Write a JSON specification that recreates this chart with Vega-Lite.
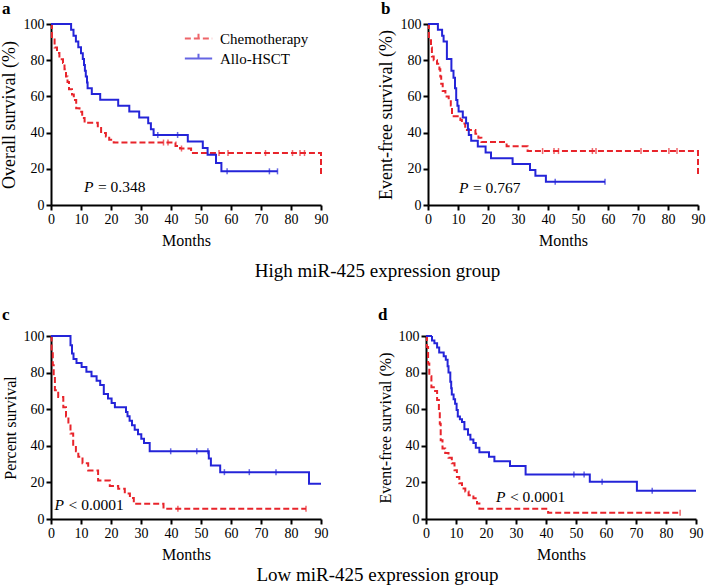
{
"$schema": "https://vega.github.io/schema/vega-lite/v6.json",
"background": "white",
"padding": {"left": 0, "top": 0, "right": 2, "bottom": 0},
"datasets": {
"curves": [
{"panel":"a","group":"Chemotherapy","month":0,"survival":100},{"panel":"a","group":"Chemotherapy","month":0.3,"survival":91.5},{"panel":"a","group":"Chemotherapy","month":1.2,"survival":87},{"panel":"a","group":"Chemotherapy","month":2,"survival":84},{"panel":"a","group":"Chemotherapy","month":2.8,"survival":80.5},{"panel":"a","group":"Chemotherapy","month":4,"survival":78.5},{"panel":"a","group":"Chemotherapy","month":4.5,"survival":75},{"panel":"a","group":"Chemotherapy","month":5,"survival":71},{"panel":"a","group":"Chemotherapy","month":5.5,"survival":68},{"panel":"a","group":"Chemotherapy","month":6,"survival":64},{"panel":"a","group":"Chemotherapy","month":7,"survival":61},{"panel":"a","group":"Chemotherapy","month":7.6,"survival":58},{"panel":"a","group":"Chemotherapy","month":8.4,"survival":53.5},{"panel":"a","group":"Chemotherapy","month":9.5,"survival":51.5},{"panel":"a","group":"Chemotherapy","month":10.4,"survival":48},{"panel":"a","group":"Chemotherapy","month":11.2,"survival":45.4},{"panel":"a","group":"Chemotherapy","month":15.6,"survival":42.6},{"panel":"a","group":"Chemotherapy","month":16.7,"survival":39.8},{"panel":"a","group":"Chemotherapy","month":18.3,"survival":37.8},{"panel":"a","group":"Chemotherapy","month":19.4,"survival":36},{"panel":"a","group":"Chemotherapy","month":20.9,"survival":34.5},{"panel":"a","group":"Chemotherapy","month":41.5,"survival":32.6},{"panel":"a","group":"Chemotherapy","month":43,"survival":31.2},{"panel":"a","group":"Chemotherapy","month":46.7,"survival":28.7},{"panel":"a","group":"Chemotherapy","month":90,"survival":28.7},{"panel":"a","group":"Chemotherapy","month":90,"survival":16.5},
{"panel":"a","group":"Allo-HSCT","month":0,"survival":100},{"panel":"a","group":"Allo-HSCT","month":6.7,"survival":96.8},{"panel":"a","group":"Allo-HSCT","month":7.5,"survival":93.5},{"panel":"a","group":"Allo-HSCT","month":8.3,"survival":90.3},{"panel":"a","group":"Allo-HSCT","month":9.1,"survival":87.1},{"panel":"a","group":"Allo-HSCT","month":10,"survival":83.9},{"panel":"a","group":"Allo-HSCT","month":10.6,"survival":80.6},{"panel":"a","group":"Allo-HSCT","month":11,"survival":77.4},{"panel":"a","group":"Allo-HSCT","month":11.3,"survival":74.2},{"panel":"a","group":"Allo-HSCT","month":11.6,"survival":71},{"panel":"a","group":"Allo-HSCT","month":12,"survival":67.7},{"panel":"a","group":"Allo-HSCT","month":12.2,"survival":64.5},{"panel":"a","group":"Allo-HSCT","month":13.6,"survival":61.3},{"panel":"a","group":"Allo-HSCT","month":16.4,"survival":58.1},{"panel":"a","group":"Allo-HSCT","month":22.4,"survival":54.8},{"panel":"a","group":"Allo-HSCT","month":26.1,"survival":51.6},{"panel":"a","group":"Allo-HSCT","month":29.4,"survival":48.4},{"panel":"a","group":"Allo-HSCT","month":32.4,"survival":45.2},{"panel":"a","group":"Allo-HSCT","month":33.3,"survival":41.9},{"panel":"a","group":"Allo-HSCT","month":34.2,"survival":38.7},{"panel":"a","group":"Allo-HSCT","month":45.6,"survival":35.1},{"panel":"a","group":"Allo-HSCT","month":50.6,"survival":31.5},{"panel":"a","group":"Allo-HSCT","month":52.2,"survival":27.8},{"panel":"a","group":"Allo-HSCT","month":55,"survival":23.2},{"panel":"a","group":"Allo-HSCT","month":56.8,"survival":18.6},{"panel":"a","group":"Allo-HSCT","month":75.5,"survival":18.6},
{"panel":"b","group":"Chemotherapy","month":0,"survival":100},{"panel":"b","group":"Chemotherapy","month":0.3,"survival":91},{"panel":"b","group":"Chemotherapy","month":1,"survival":87},{"panel":"b","group":"Chemotherapy","month":1.3,"survival":82},{"panel":"b","group":"Chemotherapy","month":1.9,"survival":80},{"panel":"b","group":"Chemotherapy","month":3,"survival":78},{"panel":"b","group":"Chemotherapy","month":3.8,"survival":75},{"panel":"b","group":"Chemotherapy","month":4.1,"survival":71},{"panel":"b","group":"Chemotherapy","month":4.4,"survival":67},{"panel":"b","group":"Chemotherapy","month":4.9,"survival":63},{"panel":"b","group":"Chemotherapy","month":5.8,"survival":60},{"panel":"b","group":"Chemotherapy","month":6.9,"survival":58},{"panel":"b","group":"Chemotherapy","month":7.6,"survival":55},{"panel":"b","group":"Chemotherapy","month":8,"survival":49},{"panel":"b","group":"Chemotherapy","month":10.8,"survival":47},{"panel":"b","group":"Chemotherapy","month":11.3,"survival":45},{"panel":"b","group":"Chemotherapy","month":12.4,"survival":41.4},{"panel":"b","group":"Chemotherapy","month":15.8,"survival":39.3},{"panel":"b","group":"Chemotherapy","month":16.8,"survival":37.2},{"panel":"b","group":"Chemotherapy","month":17.8,"survival":34.8},{"panel":"b","group":"Chemotherapy","month":26.2,"survival":32.4},{"panel":"b","group":"Chemotherapy","month":33.2,"survival":29.8},{"panel":"b","group":"Chemotherapy","month":90,"survival":29.8},{"panel":"b","group":"Chemotherapy","month":90,"survival":16},
{"panel":"b","group":"Allo-HSCT","month":0,"survival":100},{"panel":"b","group":"Allo-HSCT","month":3.3,"survival":96.8},{"panel":"b","group":"Allo-HSCT","month":4.7,"survival":93.5},{"panel":"b","group":"Allo-HSCT","month":5.2,"survival":90.3},{"panel":"b","group":"Allo-HSCT","month":6.3,"survival":80.6},{"panel":"b","group":"Allo-HSCT","month":7.8,"survival":74.2},{"panel":"b","group":"Allo-HSCT","month":8.5,"survival":70.3},{"panel":"b","group":"Allo-HSCT","month":9,"survival":64.5},{"panel":"b","group":"Allo-HSCT","month":9.4,"survival":58},{"panel":"b","group":"Allo-HSCT","month":9.8,"survival":54.8},{"panel":"b","group":"Allo-HSCT","month":10.2,"survival":51.6},{"panel":"b","group":"Allo-HSCT","month":11.6,"survival":48.4},{"panel":"b","group":"Allo-HSCT","month":12.7,"survival":45.2},{"panel":"b","group":"Allo-HSCT","month":13.3,"survival":41.9},{"panel":"b","group":"Allo-HSCT","month":13.6,"survival":38.7},{"panel":"b","group":"Allo-HSCT","month":14.4,"survival":35.5},{"panel":"b","group":"Allo-HSCT","month":16.6,"survival":32.3},{"panel":"b","group":"Allo-HSCT","month":19.2,"survival":29},{"panel":"b","group":"Allo-HSCT","month":21,"survival":25.8},{"panel":"b","group":"Allo-HSCT","month":28.2,"survival":22.6},{"panel":"b","group":"Allo-HSCT","month":34,"survival":19.4},{"panel":"b","group":"Allo-HSCT","month":35.8,"survival":16.1},{"panel":"b","group":"Allo-HSCT","month":39.3,"survival":12.9},{"panel":"b","group":"Allo-HSCT","month":59,"survival":12.9},
{"panel":"c","group":"Chemotherapy","month":0,"survival":100},{"panel":"c","group":"Chemotherapy","month":0.2,"survival":92},{"panel":"c","group":"Chemotherapy","month":0.6,"survival":84},{"panel":"c","group":"Chemotherapy","month":0.9,"survival":77},{"panel":"c","group":"Chemotherapy","month":1.3,"survival":70.4},{"panel":"c","group":"Chemotherapy","month":2.4,"survival":66.7},{"panel":"c","group":"Chemotherapy","month":4.1,"survival":61},{"panel":"c","group":"Chemotherapy","month":5,"survival":56},{"panel":"c","group":"Chemotherapy","month":5.8,"survival":52},{"panel":"c","group":"Chemotherapy","month":6.5,"survival":46.7},{"panel":"c","group":"Chemotherapy","month":7.4,"survival":40},{"panel":"c","group":"Chemotherapy","month":8.3,"survival":37},{"panel":"c","group":"Chemotherapy","month":9.1,"survival":34},{"panel":"c","group":"Chemotherapy","month":10.5,"survival":30.5},{"panel":"c","group":"Chemotherapy","month":12.4,"survival":26.5},{"panel":"c","group":"Chemotherapy","month":15.7,"survival":21},{"panel":"c","group":"Chemotherapy","month":19.6,"survival":18},{"panel":"c","group":"Chemotherapy","month":22.4,"survival":16.5},{"panel":"c","group":"Chemotherapy","month":24.6,"survival":14},{"panel":"c","group":"Chemotherapy","month":26.3,"survival":11.5},{"panel":"c","group":"Chemotherapy","month":27.6,"survival":8.3},{"panel":"c","group":"Chemotherapy","month":37.5,"survival":5.6},{"panel":"c","group":"Chemotherapy","month":85,"survival":5.6},
{"panel":"c","group":"Allo-HSCT","month":0,"survival":100},{"panel":"c","group":"Allo-HSCT","month":6.5,"survival":95},{"panel":"c","group":"Allo-HSCT","month":7,"survival":90.4},{"panel":"c","group":"Allo-HSCT","month":7.5,"survival":87.5},{"panel":"c","group":"Allo-HSCT","month":8.5,"survival":85.3},{"panel":"c","group":"Allo-HSCT","month":10.2,"survival":83},{"panel":"c","group":"Allo-HSCT","month":11.8,"survival":80.5},{"panel":"c","group":"Allo-HSCT","month":13.5,"survival":78},{"panel":"c","group":"Allo-HSCT","month":15.2,"survival":75.6},{"panel":"c","group":"Allo-HSCT","month":16.4,"survival":73.2},{"panel":"c","group":"Allo-HSCT","month":17.6,"survival":68.3},{"panel":"c","group":"Allo-HSCT","month":19,"survival":65.9},{"panel":"c","group":"Allo-HSCT","month":20.2,"survival":63.4},{"panel":"c","group":"Allo-HSCT","month":21.3,"survival":61},{"panel":"c","group":"Allo-HSCT","month":25,"survival":58.5},{"panel":"c","group":"Allo-HSCT","month":25.5,"survival":56.1},{"panel":"c","group":"Allo-HSCT","month":26.2,"survival":53.7},{"panel":"c","group":"Allo-HSCT","month":27,"survival":51.2},{"panel":"c","group":"Allo-HSCT","month":27.9,"survival":48.8},{"panel":"c","group":"Allo-HSCT","month":29,"survival":46.3},{"panel":"c","group":"Allo-HSCT","month":30.1,"survival":43.9},{"panel":"c","group":"Allo-HSCT","month":31,"survival":41.5},{"panel":"c","group":"Allo-HSCT","month":32.9,"survival":37},{"panel":"c","group":"Allo-HSCT","month":52.6,"survival":33},{"panel":"c","group":"Allo-HSCT","month":53.3,"survival":29.3},{"panel":"c","group":"Allo-HSCT","month":56.4,"survival":25.6},{"panel":"c","group":"Allo-HSCT","month":86,"survival":19.2},{"panel":"c","group":"Allo-HSCT","month":90,"survival":19.2},
{"panel":"d","group":"Chemotherapy","month":0,"survival":100},{"panel":"d","group":"Chemotherapy","month":0.3,"survival":94},{"panel":"d","group":"Chemotherapy","month":0.7,"survival":85},{"panel":"d","group":"Chemotherapy","month":1.1,"survival":78},{"panel":"d","group":"Chemotherapy","month":1.8,"survival":72},{"panel":"d","group":"Chemotherapy","month":2.6,"survival":70},{"panel":"d","group":"Chemotherapy","month":3.7,"survival":65},{"panel":"d","group":"Chemotherapy","month":4.3,"survival":59.5},{"panel":"d","group":"Chemotherapy","month":4.6,"survival":52},{"panel":"d","group":"Chemotherapy","month":4.9,"survival":43},{"panel":"d","group":"Chemotherapy","month":5.5,"survival":38.5},{"panel":"d","group":"Chemotherapy","month":6.4,"survival":36},{"panel":"d","group":"Chemotherapy","month":7.5,"survival":33.5},{"panel":"d","group":"Chemotherapy","month":8.6,"survival":30.4},{"panel":"d","group":"Chemotherapy","month":9.5,"survival":26.7},{"panel":"d","group":"Chemotherapy","month":10.3,"survival":23},{"panel":"d","group":"Chemotherapy","month":11.1,"survival":19.5},{"panel":"d","group":"Chemotherapy","month":12,"survival":16.7},{"panel":"d","group":"Chemotherapy","month":13.1,"survival":15},{"panel":"d","group":"Chemotherapy","month":14.2,"survival":13},{"panel":"d","group":"Chemotherapy","month":15.8,"survival":11.3},{"panel":"d","group":"Chemotherapy","month":17,"survival":8.5},{"panel":"d","group":"Chemotherapy","month":17.8,"survival":5.6},{"panel":"d","group":"Chemotherapy","month":40.7,"survival":3.4},{"panel":"d","group":"Chemotherapy","month":84.7,"survival":3.4},
{"panel":"d","group":"Allo-HSCT","month":0,"survival":100},{"panel":"d","group":"Allo-HSCT","month":2,"survival":97.5},{"panel":"d","group":"Allo-HSCT","month":2.8,"survival":96},{"panel":"d","group":"Allo-HSCT","month":3.7,"survival":93.7},{"panel":"d","group":"Allo-HSCT","month":4.4,"survival":91},{"panel":"d","group":"Allo-HSCT","month":5.9,"survival":89},{"panel":"d","group":"Allo-HSCT","month":6.6,"survival":87},{"panel":"d","group":"Allo-HSCT","month":7.2,"survival":83.5},{"panel":"d","group":"Allo-HSCT","month":7.5,"survival":80},{"panel":"d","group":"Allo-HSCT","month":8.1,"survival":75},{"panel":"d","group":"Allo-HSCT","month":8.4,"survival":71.5},{"panel":"d","group":"Allo-HSCT","month":8.6,"survival":68},{"panel":"d","group":"Allo-HSCT","month":9.2,"survival":65.5},{"panel":"d","group":"Allo-HSCT","month":9.7,"survival":63},{"panel":"d","group":"Allo-HSCT","month":10.2,"survival":59.5},{"panel":"d","group":"Allo-HSCT","month":10.6,"survival":56},{"panel":"d","group":"Allo-HSCT","month":11.3,"survival":54.5},{"panel":"d","group":"Allo-HSCT","month":12,"survival":53},{"panel":"d","group":"Allo-HSCT","month":12.8,"survival":49},{"panel":"d","group":"Allo-HSCT","month":14,"survival":46},{"panel":"d","group":"Allo-HSCT","month":14.8,"survival":43.5},{"panel":"d","group":"Allo-HSCT","month":15.8,"survival":41.5},{"panel":"d","group":"Allo-HSCT","month":16.6,"survival":39},{"panel":"d","group":"Allo-HSCT","month":17.8,"survival":36.5},{"panel":"d","group":"Allo-HSCT","month":21,"survival":34},{"panel":"d","group":"Allo-HSCT","month":22.8,"survival":31.5},{"panel":"d","group":"Allo-HSCT","month":28,"survival":29},{"panel":"d","group":"Allo-HSCT","month":33.2,"survival":24.3},{"panel":"d","group":"Allo-HSCT","month":54.6,"survival":20.4},{"panel":"d","group":"Allo-HSCT","month":70.3,"survival":15.5},{"panel":"d","group":"Allo-HSCT","month":90,"survival":15.5}
],
"censors": [
{"panel":"a","group":"Chemotherapy","month":37.5,"survival":34.5},{"panel":"a","group":"Chemotherapy","month":39,"survival":34.5},{"panel":"a","group":"Chemotherapy","month":43.5,"survival":31.2},{"panel":"a","group":"Chemotherapy","month":56,"survival":28.7},{"panel":"a","group":"Chemotherapy","month":59,"survival":28.7},{"panel":"a","group":"Chemotherapy","month":71.5,"survival":28.7},{"panel":"a","group":"Chemotherapy","month":80.5,"survival":28.7},{"panel":"a","group":"Chemotherapy","month":83,"survival":28.7},{"panel":"a","group":"Chemotherapy","month":84.5,"survival":28.7},
{"panel":"a","group":"Allo-HSCT","month":35.6,"survival":38.7},{"panel":"a","group":"Allo-HSCT","month":42.2,"survival":38.7},{"panel":"a","group":"Allo-HSCT","month":58.7,"survival":18.6},{"panel":"a","group":"Allo-HSCT","month":72.8,"survival":18.6},{"panel":"a","group":"Allo-HSCT","month":75.5,"survival":18.6},
{"panel":"b","group":"Chemotherapy","month":38.2,"survival":29.8},{"panel":"b","group":"Chemotherapy","month":42,"survival":29.8},{"panel":"b","group":"Chemotherapy","month":43.5,"survival":29.8},{"panel":"b","group":"Chemotherapy","month":54.8,"survival":29.8},{"panel":"b","group":"Chemotherapy","month":56,"survival":29.8},{"panel":"b","group":"Chemotherapy","month":71,"survival":29.8},{"panel":"b","group":"Chemotherapy","month":80.3,"survival":29.8},{"panel":"b","group":"Chemotherapy","month":83,"survival":29.8},
{"panel":"b","group":"Allo-HSCT","month":42.4,"survival":12.9},{"panel":"b","group":"Allo-HSCT","month":59,"survival":12.9},
{"panel":"c","group":"Chemotherapy","month":42.3,"survival":5.6},{"panel":"c","group":"Chemotherapy","month":85,"survival":5.6},
{"panel":"c","group":"Allo-HSCT","month":39.9,"survival":37},{"panel":"c","group":"Allo-HSCT","month":48.6,"survival":37},{"panel":"c","group":"Allo-HSCT","month":52.3,"survival":37},{"panel":"c","group":"Allo-HSCT","month":57.8,"survival":25.6},{"panel":"c","group":"Allo-HSCT","month":66.1,"survival":25.6},{"panel":"c","group":"Allo-HSCT","month":75,"survival":25.6},
{"panel":"d","group":"Chemotherapy","month":84.7,"survival":3.4},
{"panel":"d","group":"Allo-HSCT","month":49.3,"survival":24.3},{"panel":"d","group":"Allo-HSCT","month":52.7,"survival":24.3},{"panel":"d","group":"Allo-HSCT","month":58.7,"survival":20.4},{"panel":"d","group":"Allo-HSCT","month":75.4,"survival":15.5}
]
},
"spacing": 25,
"vconcat": [
{
"spacing": 49,
"title": {"text": "High miR-425 expression group", "orient": "bottom", "anchor": "middle", "fontSize": 19, "fontWeight": "normal", "offset": 14, "dx": 25},
"hconcat": [
{
"width": 270, "height": 181,
"title": {"text": "a", "anchor": "start", "frame": "group", "dx": -49, "fontSize": 17, "fontWeight": "bold", "offset": -1},
"encoding": {
"x": {"field": "month", "type": "quantitative", "scale": {"domain": [0, 90], "nice": false}, "axis": {"title": "Months", "values": [0,10,20,30,40,50,60,70,80,90], "labelOverlap": false}},
"y": {"field": "survival", "type": "quantitative", "scale": {"domain": [0, 100], "nice": false}, "axis": {"title": "Overall survival (%)", "values": [0,20,40,60,80,100], "titleFontSize": 18, "labelOverlap": false}}
},
"layer": [
{"data": {"name": "curves"}, "transform": [{"filter": "datum.panel === 'a'"}],
"mark": {"type": "line", "interpolate": "step-after", "strokeWidth": 2},
"encoding": {
"color": {"field": "group", "type": "nominal", "scale": {"domain": ["Chemotherapy","Allo-HSCT"], "range": ["#e8242b","#2424d8"]}, "legend": {"title": null, "legendX": 136, "legendY": 3}},
"strokeDash": {"field": "group", "type": "nominal", "scale": {"domain": ["Chemotherapy","Allo-HSCT"], "range": [[6,3],[1,0]]}, "legend": {"title": null, "legendX": 136, "legendY": 3}},
"order": [{"field": "month", "type": "quantitative"}, {"field": "survival", "type": "quantitative", "sort": "descending"}]
}},
{"data": {"name": "censors"}, "transform": [{"filter": "datum.panel === 'a'"}],
"mark": {"type": "tick", "orient": "vertical", "size": 6, "thickness": 1.5},
"encoding": {"color": {"field": "group", "type": "nominal"}}},
{"data": {"values": [{"label": "P", "rest": "= 0.348", "month": 11, "survival": 10}]}, "mark": {"type": "text", "fontStyle": "italic", "align": "left"}, "encoding": {"text": {"field": "label"}}},
{"data": {"values": [{"label": "P", "rest": "= 0.348", "month": 11, "survival": 10}]}, "mark": {"type": "text", "align": "left", "dx": 14}, "encoding": {"text": {"field": "rest"}}}
]
},
{
"width": 270, "height": 181,
"title": {"text": "b", "anchor": "start", "frame": "group", "dx": -47, "fontSize": 17, "fontWeight": "bold", "offset": -1},
"encoding": {
"x": {"field": "month", "type": "quantitative", "scale": {"domain": [0, 90], "nice": false}, "axis": {"title": "Months", "values": [0,10,20,30,40,50,60,70,80,90], "labelOverlap": false}},
"y": {"field": "survival", "type": "quantitative", "scale": {"domain": [0, 100], "nice": false}, "axis": {"title": "Event-free survival (%)", "values": [0,20,40,60,80,100], "titleFontSize": 18, "labelOverlap": false}}
},
"layer": [
{"data": {"name": "curves"}, "transform": [{"filter": "datum.panel === 'b'"}],
"mark": {"type": "line", "interpolate": "step-after", "strokeWidth": 2},
"encoding": {
"color": {"field": "group", "type": "nominal", "scale": {"domain": ["Chemotherapy","Allo-HSCT"], "range": ["#e8242b","#2424d8"]}, "legend": {"title": null, "legendX": 138, "legendY": 12}},
"strokeDash": {"field": "group", "type": "nominal", "scale": {"domain": ["Chemotherapy","Allo-HSCT"], "range": [[6,3],[1,0]]}, "legend": {"title": null, "legendX": 138, "legendY": 12}},
"order": [{"field": "month", "type": "quantitative"}, {"field": "survival", "type": "quantitative", "sort": "descending"}]
}},
{"data": {"name": "censors"}, "transform": [{"filter": "datum.panel === 'b'"}],
"mark": {"type": "tick", "orient": "vertical", "size": 6, "thickness": 1.5},
"encoding": {"color": {"field": "group", "type": "nominal"}}},
{"data": {"values": [{"label": "P", "rest": "= 0.767", "month": 10.3, "survival": 9.4}]}, "mark": {"type": "text", "fontStyle": "italic", "align": "left"}, "encoding": {"text": {"field": "label"}}},
{"data": {"values": [{"label": "P", "rest": "= 0.767", "month": 10.3, "survival": 9.4}]}, "mark": {"type": "text", "align": "left", "dx": 14}, "encoding": {"text": {"field": "rest"}}}
]
}
]
},
{
"spacing": 49,
"title": {"text": "Low miR-425 expression group", "orient": "bottom", "anchor": "middle", "fontSize": 19, "fontWeight": "normal", "offset": 4, "dx": 25},
"hconcat": [
{
"width": 270, "height": 183,
"title": {"text": "c", "anchor": "start", "frame": "group", "dx": -49, "fontSize": 17, "fontWeight": "bold", "offset": 5},
"encoding": {
"x": {"field": "month", "type": "quantitative", "scale": {"domain": [0, 90], "nice": false}, "axis": {"title": "Months", "values": [0,10,20,30,40,50,60,70,80,90], "labelOverlap": false}},
"y": {"field": "survival", "type": "quantitative", "scale": {"domain": [0, 100], "nice": false}, "axis": {"title": "Percent survival", "values": [0,20,40,60,80,100], "titleFontSize": 16, "labelOverlap": false}}
},
"layer": [
{"data": {"name": "curves"}, "transform": [{"filter": "datum.panel === 'c'"}],
"mark": {"type": "line", "interpolate": "step-after", "strokeWidth": 2},
"encoding": {
"color": {"field": "group", "type": "nominal", "scale": {"domain": ["Chemotherapy","Allo-HSCT"], "range": ["#e8242b","#2424d8"]}, "legend": {"title": null, "legendX": 146, "legendY": 12}},
"strokeDash": {"field": "group", "type": "nominal", "scale": {"domain": ["Chemotherapy","Allo-HSCT"], "range": [[6,3],[1,0]]}, "legend": {"title": null, "legendX": 146, "legendY": 12}},
"order": [{"field": "month", "type": "quantitative"}, {"field": "survival", "type": "quantitative", "sort": "descending"}]
}},
{"data": {"name": "censors"}, "transform": [{"filter": "datum.panel === 'c'"}],
"mark": {"type": "tick", "orient": "vertical", "size": 6, "thickness": 1.5},
"encoding": {"color": {"field": "group", "type": "nominal"}}},
{"data": {"values": [{"label": "P", "rest": "< 0.0001", "month": 1.2, "survival": 7.7}]}, "mark": {"type": "text", "fontStyle": "italic", "align": "left"}, "encoding": {"text": {"field": "label"}}},
{"data": {"values": [{"label": "P", "rest": "< 0.0001", "month": 1.2, "survival": 7.7}]}, "mark": {"type": "text", "align": "left", "dx": 14}, "encoding": {"text": {"field": "rest"}}}
]
},
{
"width": 270, "height": 183,
"title": {"text": "d", "anchor": "start", "frame": "group", "dx": -48, "fontSize": 17, "fontWeight": "bold", "offset": 5},
"encoding": {
"x": {"field": "month", "type": "quantitative", "scale": {"domain": [0, 90], "nice": false}, "axis": {"title": "Months", "values": [0,10,20,30,40,50,60,70,80,90], "labelOverlap": false}},
"y": {"field": "survival", "type": "quantitative", "scale": {"domain": [0, 100], "nice": false}, "axis": {"title": "Event-free survival (%)", "values": [0,20,40,60,80,100], "titleFontSize": 16, "labelOverlap": false}}
},
"layer": [
{"data": {"name": "curves"}, "transform": [{"filter": "datum.panel === 'd'"}],
"mark": {"type": "line", "interpolate": "step-after", "strokeWidth": 2},
"encoding": {
"color": {"field": "group", "type": "nominal", "scale": {"domain": ["Chemotherapy","Allo-HSCT"], "range": ["#e8242b","#2424d8"]}, "legend": {"title": null, "legendX": 151, "legendY": 11}},
"strokeDash": {"field": "group", "type": "nominal", "scale": {"domain": ["Chemotherapy","Allo-HSCT"], "range": [[6,3],[1,0]]}, "legend": {"title": null, "legendX": 151, "legendY": 11}},
"order": [{"field": "month", "type": "quantitative"}, {"field": "survival", "type": "quantitative", "sort": "descending"}]
}},
{"data": {"name": "censors"}, "transform": [{"filter": "datum.panel === 'd'"}],
"mark": {"type": "tick", "orient": "vertical", "size": 6, "thickness": 1.5},
"encoding": {"color": {"field": "group", "type": "nominal"}}},
{"data": {"values": [{"label": "P", "rest": "< 0.0001", "month": 23.3, "survival": 12.2}]}, "mark": {"type": "text", "fontStyle": "italic", "align": "left"}, "encoding": {"text": {"field": "label"}}},
{"data": {"values": [{"label": "P", "rest": "< 0.0001", "month": 23.3, "survival": 12.2}]}, "mark": {"type": "text", "align": "left", "dx": 14}, "encoding": {"text": {"field": "rest"}}}
]
}
]
}
],
"config": {
"view": {"stroke": null},
"font": "Liberation Serif",
"title": {"font": "Liberation Serif", "color": "black"},
"text": {"font": "Liberation Serif", "fontSize": 15.5, "color": "black", "baseline": "middle"},
"axis": {"domainColor": "black", "domainWidth": 2, "tickColor": "black", "tickWidth": 2, "tickSize": 5, "labelFont": "Liberation Serif", "labelFontSize": 14, "labelColor": "black", "labelPadding": 2, "labelFlush": false, "labelOverlap": false, "labelSeparation": 0, "titleFont": "Liberation Serif", "titleFontWeight": "normal", "titleColor": "black", "titleFontSize": 16, "grid": false},
"axisX": {"titlePadding": 6},
"axisY": {"titlePadding": 5},
"legend": {"orient": "none", "symbolType": "M-1.3,0H1.3M0,0V-0.45", "symbolSize": 441, "symbolStrokeWidth": 2, "labelFont": "Liberation Serif", "labelFontSize": 15, "labelColor": "black", "rowPadding": 0, "labelOffset": 10, "padding": 0}
}
}
